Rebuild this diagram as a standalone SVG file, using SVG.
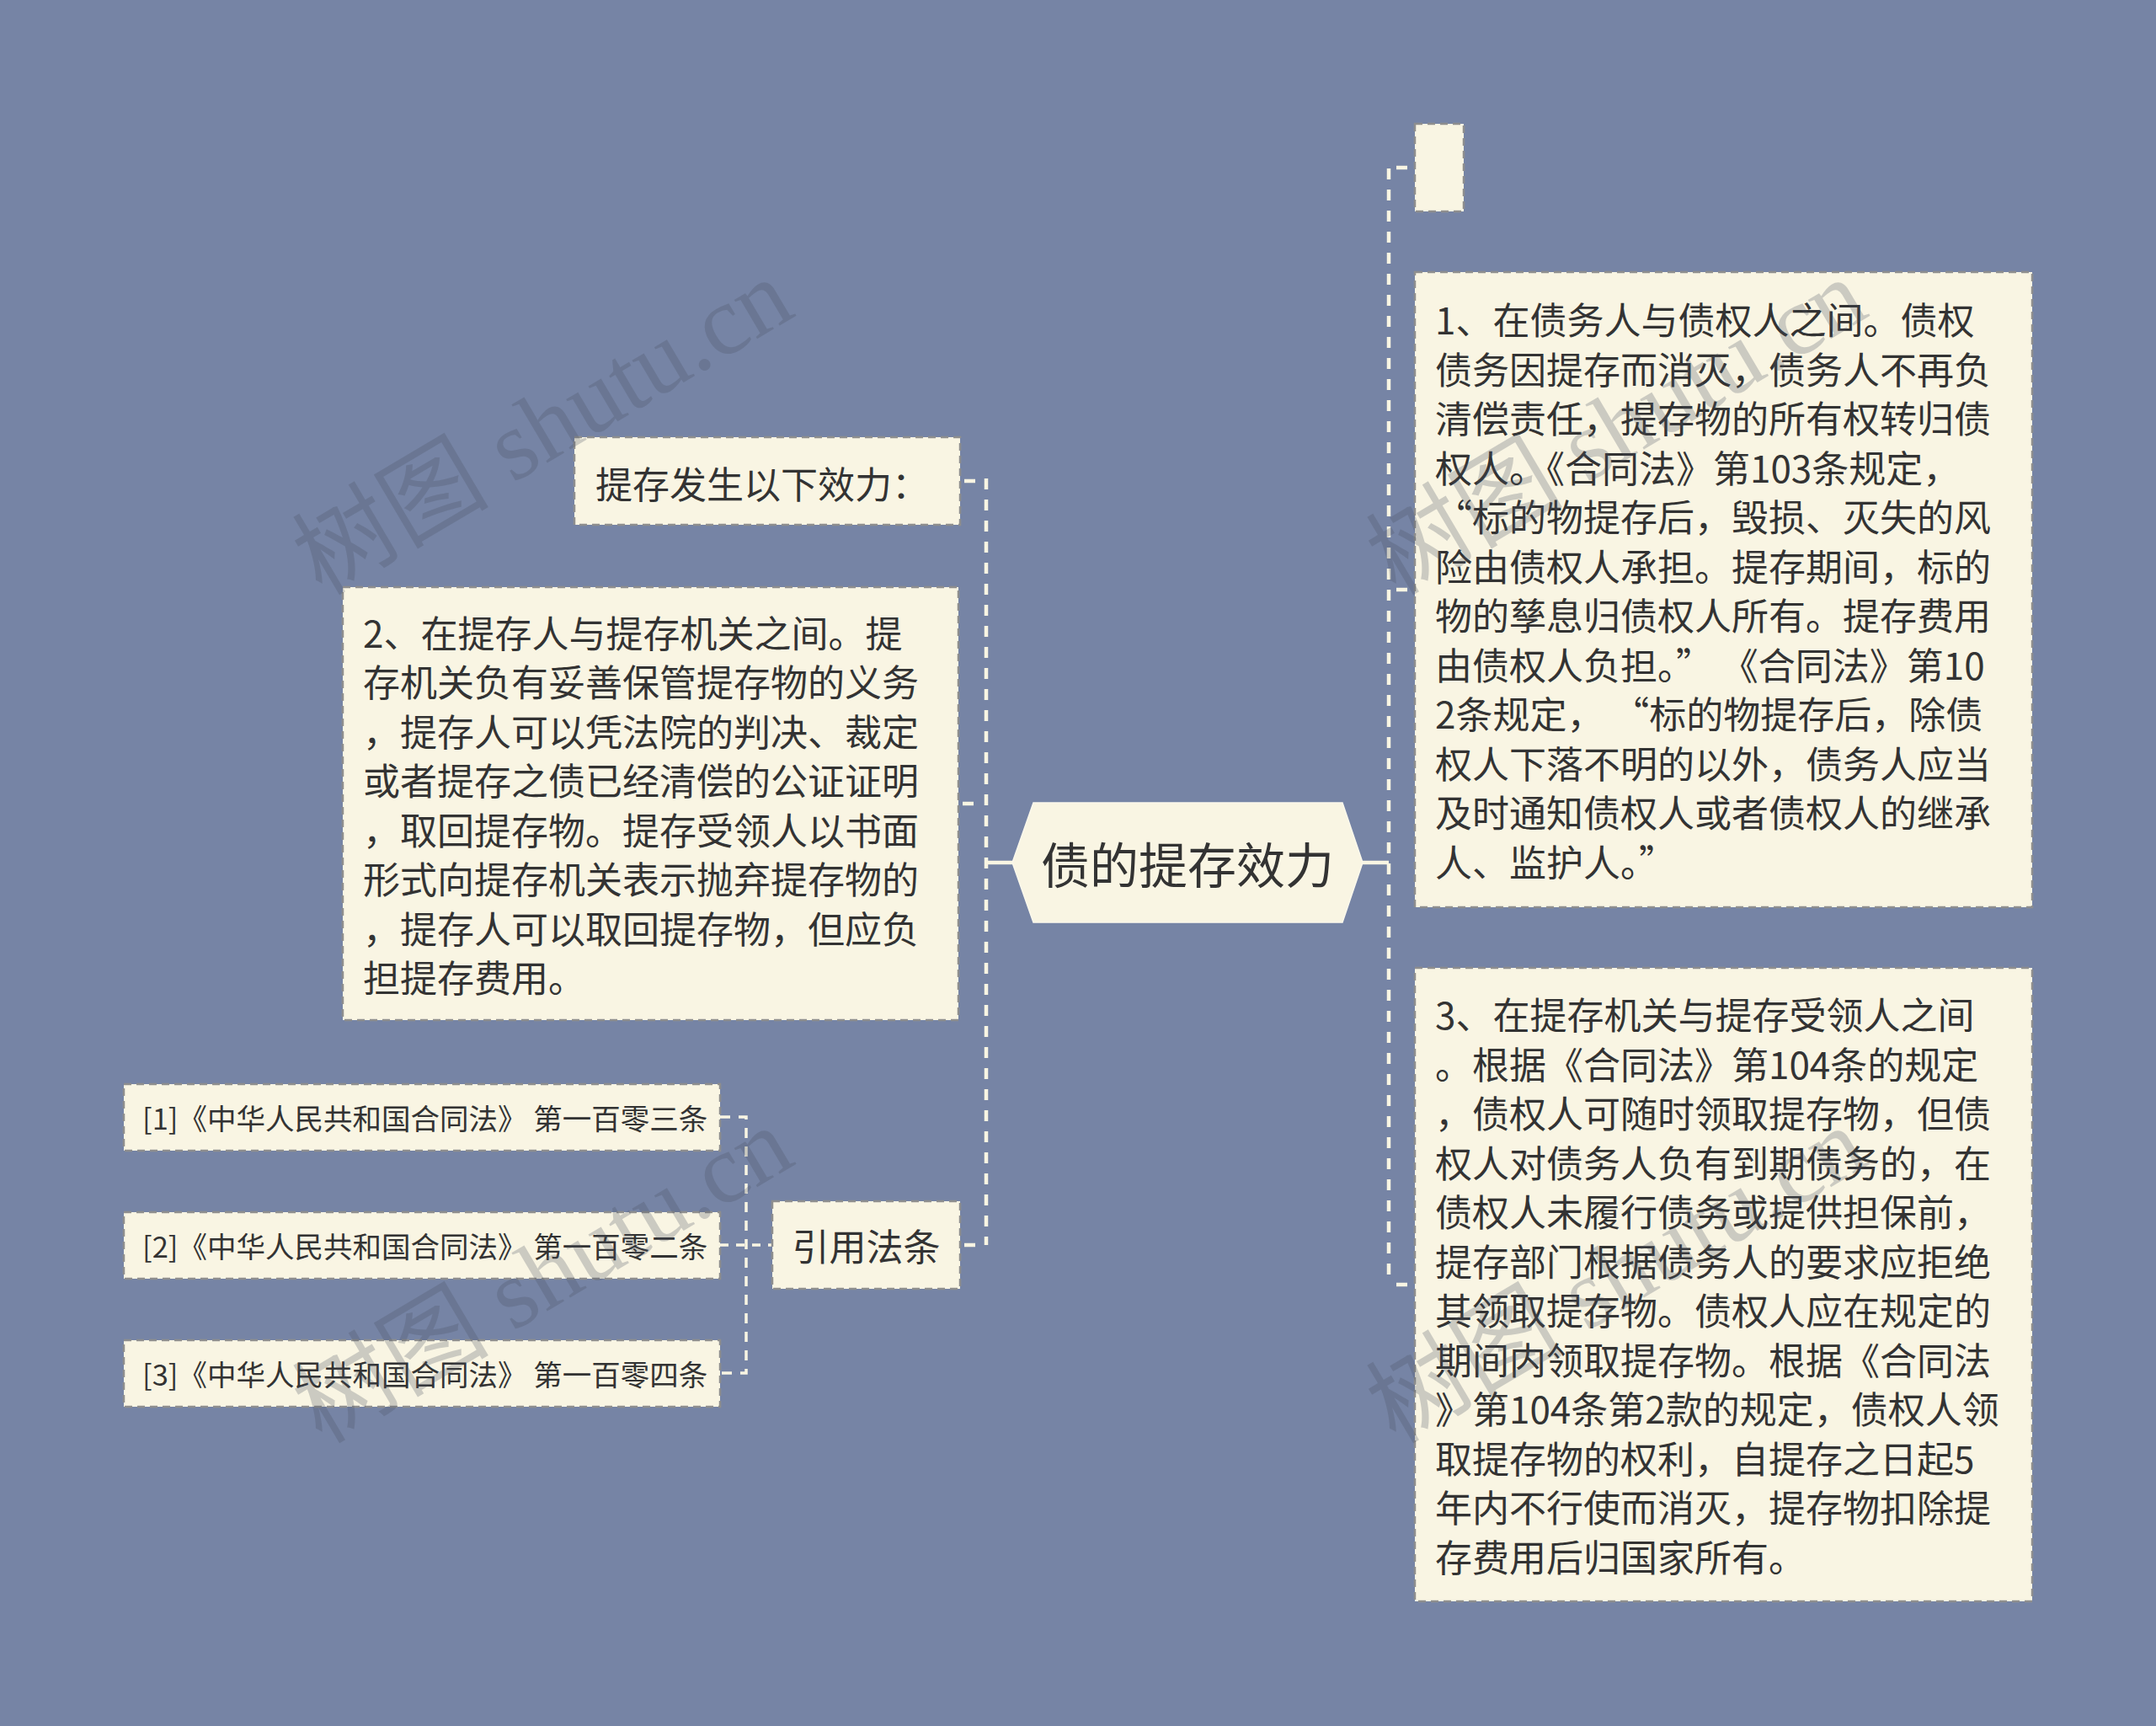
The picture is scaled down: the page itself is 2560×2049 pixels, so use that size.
<svg xmlns="http://www.w3.org/2000/svg" width="2560" height="2049" viewBox="0 0 2560 2049">
<style>
.bg{fill:#7684A5}
.box{fill:#F9F5E3;stroke:#8E8E8E;stroke-width:2.5;stroke-dasharray:9 6}
.hex{fill:#F9F5E3;stroke:#FBF8EC;stroke-width:1.5}
.t{font-family:'Noto Sans CJK SC','Noto Sans',sans-serif;fill:#333333;dominant-baseline:central}
.t44{font-size:44px}
.t35{font-size:34.5px}
.c{fill:none;stroke:#F9F5E3;stroke-width:4.5}
.d{stroke-dasharray:13 12}
.wm{font-family:'Liberation Serif','Noto Sans CJK SC',serif;font-size:117px;fill:#4A5060;fill-opacity:0.26}
</style>
<rect class="bg" x="0" y="0" width="2560" height="2049"/>

<g id="connectors">
  <path class="c" d="M1202,1024 H1171"/>
  <path class="c" d="M1618,1024 H1649"/>
  <path class="c d" d="M1171,568 V1478"/>
  <path class="c d" d="M1649,200 V1525"/>
  <path class="c" style="stroke-dasharray:0 5 13 13" d="M1140,571 H1171"/>
  <path class="c" style="stroke-dasharray:0 5 13 13" d="M1138,954 H1171"/>
  <path class="c" style="stroke-dasharray:0 5 13 13" d="M1140,1478 H1171"/>
  <path class="c" style="stroke-dasharray:0 9 13 9" d="M1680,199 H1649"/>
  <path class="c" style="stroke-dasharray:0 9 13 9" d="M1680,700 H1649"/>
  <path class="c" style="stroke-dasharray:0 9 13 9" d="M1680,1525 H1649"/>
  <path class="c" style="stroke-width:3.5;stroke-dasharray:12 10" d="M855,1326 H886 V1630 H855"/>
  <path class="c" style="stroke-width:3.5;stroke-dasharray:10 9" d="M855,1478 H917"/>
</g>

<g id="center">
  <polygon class="hex" points="1202,1024 1227,953 1594,953 1618,1024 1594,1095 1227,1095"/>
  <text class="t" x="1410" y="1024" font-size="58" text-anchor="middle">债的提存效力</text>
</g>

<g id="node-empty">
  <rect class="box" x="1680" y="147" width="58" height="104"/>
</g>

<g id="node-1">
  <rect class="box" x="1680" y="323" width="733" height="754"/>
  <text class="t t44" x="1704">
    <tspan x="1704" y="378">1、在债务人与债权人之间。债权</tspan>
    <tspan x="1704" y="436.5">债务因提存而消灭，债务人不再负</tspan>
    <tspan x="1704" y="495">清偿责任，提存物的所有权转归债</tspan>
    <tspan x="1704" y="553.5">权人。《合同法》第103条规定，</tspan>
    <tspan x="1704" y="612">“标的物提存后，毁损、灭失的风</tspan>
    <tspan x="1704" y="670.5">险由债权人承担。提存期间，标的</tspan>
    <tspan x="1704" y="729">物的孳息归债权人所有。提存费用</tspan>
    <tspan x="1704" y="787.5">由债权人负担。” 《合同法》第10</tspan>
    <tspan x="1704" y="846">2条规定， “标的物提存后，除债</tspan>
    <tspan x="1704" y="904.5">权人下落不明的以外，债务人应当</tspan>
    <tspan x="1704" y="963">及时通知债权人或者债权人的继承</tspan>
    <tspan x="1704" y="1021.5">人、监护人。”</tspan>
  </text>
</g>

<g id="node-3">
  <rect class="box" x="1680" y="1149" width="733" height="752"/>
  <text class="t t44" x="1704">
    <tspan x="1704" y="1203">3、在提存机关与提存受领人之间</tspan>
    <tspan x="1704" y="1261.5">。根据《合同法》第104条的规定</tspan>
    <tspan x="1704" y="1320">，债权人可随时领取提存物，但债</tspan>
    <tspan x="1704" y="1378.5">权人对债务人负有到期债务的，在</tspan>
    <tspan x="1704" y="1437">债权人未履行债务或提供担保前，</tspan>
    <tspan x="1704" y="1495.5">提存部门根据债务人的要求应拒绝</tspan>
    <tspan x="1704" y="1554">其领取提存物。债权人应在规定的</tspan>
    <tspan x="1704" y="1612.5">期间内领取提存物。根据《合同法</tspan>
    <tspan x="1704" y="1671">》第104条第2款的规定，债权人领</tspan>
    <tspan x="1704" y="1729.5">取提存物的权利，自提存之日起5</tspan>
    <tspan x="1704" y="1788">年内不行使而消灭，提存物扣除提</tspan>
    <tspan x="1704" y="1846.5">存费用后归国家所有。</tspan>
  </text>
</g>

<g id="node-intro">
  <rect class="box" x="682" y="519" width="458" height="104"/>
  <text class="t t44" x="707" y="573">提存发生以下效力：</text>
</g>

<g id="node-2">
  <rect class="box" x="407" y="697" width="731" height="514"/>
  <text class="t t44" x="431">
    <tspan x="431" y="749.5">2、在提存人与提存机关之间。提</tspan>
    <tspan x="431" y="808">存机关负有妥善保管提存物的义务</tspan>
    <tspan x="431" y="866.5">，提存人可以凭法院的判决、裁定</tspan>
    <tspan x="431" y="925">或者提存之债已经清偿的公证证明</tspan>
    <tspan x="431" y="983.5">，取回提存物。提存受领人以书面</tspan>
    <tspan x="431" y="1042">形式向提存机关表示抛弃提存物的</tspan>
    <tspan x="431" y="1100.5">，提存人可以取回提存物，但应负</tspan>
    <tspan x="431" y="1159">担提存费用。</tspan>
  </text>
</g>

<g id="node-cite">
  <rect class="box" x="917" y="1426" width="223" height="104"/>
  <text class="t t44" x="1028.5" y="1478" text-anchor="middle">引用法条</text>
</g>

<g id="cite-1">
  <rect class="box" x="147" y="1287" width="708" height="79"/>
  <text class="t t35" x="169" y="1326">[1]《中华人民共和国合同法》 第一百零三条</text>
</g>
<g id="cite-2">
  <rect class="box" x="147" y="1439" width="708" height="79"/>
  <text class="t t35" x="169" y="1478">[2]《中华人民共和国合同法》 第一百零二条</text>
</g>
<g id="cite-3">
  <rect class="box" x="147" y="1591" width="708" height="79"/>
  <text class="t t35" x="169" y="1630">[3]《中华人民共和国合同法》 第一百零四条</text>
</g>

<g id="watermarks">
  <text class="wm" transform="translate(382,708) rotate(-30.6)">树图 shutu.cn</text>
  <text class="wm" transform="translate(1657,708) rotate(-30.6)">树图 shutu.cn</text>
  <text class="wm" transform="translate(382,1715) rotate(-30.6)">树图 shutu.cn</text>
  <text class="wm" transform="translate(1657,1715) rotate(-30.6)">树图 shutu.cn</text>
</g>
</svg>
